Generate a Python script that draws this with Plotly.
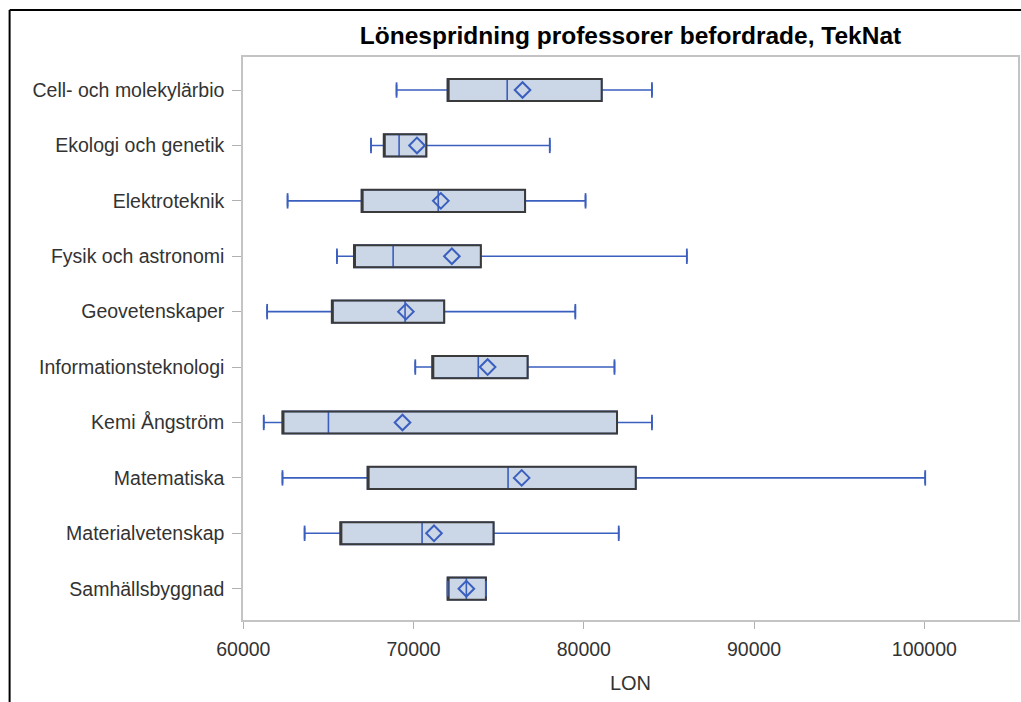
import plotly.graph_objects as go

# values (LON per institution)
institutions = ["Cell- och molekylärbio", "Ekologi och genetik", "Elektroteknik",
                "Fysik och astronomi", "Geovetenskaper", "Informationsteknologi",
                "Kemi Ångström", "Matematiska", "Materialvetenskap", "Samhällsbyggnad"]
lon_min = [69000, 67500, 62600, 65500, 61400, 70100, 61200, 62300, 63600, 72000]
lon_q1 = [72000, 68250, 66950, 66500, 65200, 71100, 62300, 67300, 65700, 72000]
lon_median = [75500, 69150, 71450, 68800, 69500, 73800, 65000, 75550, 70500, 73100]
lon_mean = [76400, 70200, 71600, 72250, 69550, 74350, 69350, 76350, 71200, 73100]
lon_q3 = [81050, 70750, 76550, 73950, 71800, 76700, 81950, 83050, 74700, 74250]
lon_max = [84000, 78000, 80100, 86050, 79500, 81800, 84000, 100050, 82050, 74250]

blue = "#3a5fbe"
fill = "#cbd6e6"
dark = "#3a3a3a"

fig = go.Figure()

# whiskers, median and fill
fig.add_trace(go.Box(
    y=institutions, q1=lon_q1, median=lon_median, q3=lon_q3,
    lowerfence=lon_min, upperfence=lon_max,
    orientation="h", fillcolor=fill, line=dict(color=blue, width=1.6),
    width=0.4, boxpoints=False, showlegend=False, hoverinfo="skip"))

# dark box outline on top
fig.add_trace(go.Box(
    y=institutions, q1=lon_q1, median=lon_q1, q3=lon_q3,
    lowerfence=lon_q1, upperfence=lon_q3,
    orientation="h", fillcolor="rgba(0,0,0,0)", line=dict(color=dark, width=2),
    width=0.4, boxpoints=False, showlegend=False, hoverinfo="skip"))

# whisker caps
fig.add_trace(go.Scatter(
    x=lon_min + lon_max, y=institutions + institutions, mode="markers",
    marker=dict(symbol="line-ns", size=11, line=dict(color=blue, width=1.8)),
    showlegend=False, hoverinfo="skip"))

# means
fig.add_trace(go.Scatter(
    x=lon_mean, y=institutions, mode="markers",
    marker=dict(symbol="diamond-open", size=12, color=blue, line=dict(color=blue, width=2)),
    showlegend=False))

W, H = 1021, 702
ml, mr, mt, mb = 243, 1, 57, 82
pw, ph = W - ml - mr, H - mt - mb

def px(x):
    return (x - ml) / pw

def py(y):
    return 1 - (y - mt) / ph

fig.update_layout(
    width=W, height=H,
    margin=dict(l=ml, r=mr, t=mt, b=mb),
    paper_bgcolor="white", plot_bgcolor="white",
    boxmode="overlay",
    font=dict(family="Liberation Sans, Arial", color="#333333", size=19.5),
    title=dict(text="<b>Lönespridning professorer befordrade, TekNat</b>",
               x=0.5, xref="paper", xanchor="center", y=1 - 35 / H, yanchor="middle",
               font=dict(size=24.5, color="#000000")),
    xaxis=dict(range=[59982, 105500], tick0=0, dtick=10000, tickformat="d",
               showgrid=False, zeroline=False, showline=True, mirror=True,
               linecolor="#c4c4c4", linewidth=1.5, ticks="outside", ticklen=7,
               tickcolor="#b0b0b0", tickfont=dict(size=19.5), ticklabelstandoff=4,
               title=dict(text="LON", font=dict(size=20), standoff=17)),
    yaxis=dict(categoryorder="array", categoryarray=institutions,
               range=[9.565, -0.596], showgrid=False, zeroline=False,
               showline=True, mirror=True, linecolor="#c4c4c4", linewidth=1.5,
               ticks="outside", ticklen=9, tickcolor="#b0b0b0",
               tickfont=dict(size=19.5), ticklabelstandoff=4),
    shapes=[
        dict(type="line", xref="paper", yref="paper", x0=px(9), x1=px(W + 5),
             y0=py(10), y1=py(10), line=dict(color="black", width=2)),
        dict(type="line", xref="paper", yref="paper", x0=px(9), x1=px(9),
             y0=py(10), y1=py(H + 5), line=dict(color="black", width=2)),
    ],
)

fig.write_html("out.html", config={"displayModeBar": False},
               post_script="document.body.style.margin='0';")
